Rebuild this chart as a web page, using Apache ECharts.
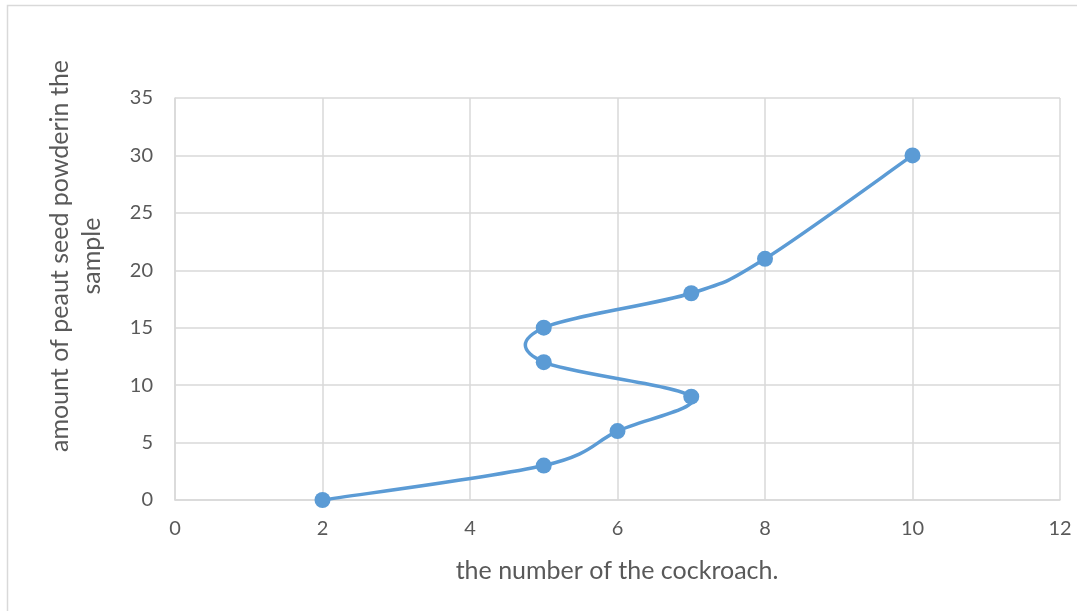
<!DOCTYPE html>
<html>
<head>
<meta charset="utf-8">
<script src="https://cdn.jsdelivr.net/npm/echarts@6/dist/echarts.min.js"></script>
<style>
html,body{margin:0;padding:0;background:#fff;}
#chart{width:1077px;height:611px;}
</style>
</head>
<body>
<div id="chart"></div>
<script>
// Cockroach count vs. amount of peanut seed powder in the sample
const cockroachCount = [2, 5, 6, 7, 5, 5, 7, 8, 10];
const powderAmount   = [0, 3, 6, 9, 12, 15, 18, 21, 30];
const xTicks = [0, 2, 4, 6, 8, 10, 12];
const yTicks = [0, 5, 10, 15, 20, 25, 30, 35];

const xTitle = 'the number of the cockroach.';
const yTitleLines = ['amount of peaut seed powderin the', 'sample'];

const points = cockroachCount.map((x, i) => [x, powderAmount[i]]);

const font = 'Lato, "Open Sans", sans-serif';
const textColor = '#595959';
const gridColor = '#d9d9d9';
const lineColor = '#5b9bd5';

// Smoothed connector through the points (Catmull-Rom style cubic segments),
// built in pixel space from the axis-converted coordinates.
function renderSmoothLine(params, api) {
  if (params.dataIndex !== 0) return null;
  const px = points.map(p => api.coord(p));
  const n = px.length;
  let d = 'M' + px[0][0] + ',' + px[0][1];
  for (let i = 0; i < n - 1; i++) {
    const p0 = px[Math.max(i - 1, 0)];
    const p1 = px[i];
    const p2 = px[i + 1];
    const p3 = px[Math.min(i + 2, n - 1)];
    const c1 = [p1[0] + (p2[0] - p0[0]) / 6, p1[1] + (p2[1] - p0[1]) / 6];
    const c2 = [p2[0] - (p3[0] - p1[0]) / 6, p2[1] - (p3[1] - p1[1]) / 6];
    d += ' C' + c1[0] + ',' + c1[1] + ' ' + c2[0] + ',' + c2[1] + ' ' + p2[0] + ',' + p2[1];
  }
  return {
    type: 'path',
    shape: {pathData: d},
    style: {fill: null, stroke: lineColor, lineWidth: 3.5, lineCap: 'round', lineJoin: 'round'}
  };
}

const chart = echarts.init(document.getElementById('chart'), null, {renderer: 'canvas'});
chart.setOption({
  animation: false,
  backgroundColor: '#fff',
  grid: {left: 175, right: 17, top: 98, bottom: 111, containLabel: false},
  xAxis: {
    type: 'value',
    min: xTicks[0], max: xTicks[xTicks.length - 1], interval: 2,
    axisLine: {show: true, lineStyle: {color: gridColor, width: 1.5}},
    axisTick: {show: false},
    splitLine: {show: true, lineStyle: {color: gridColor, width: 1.5}},
    axisLabel: {color: textColor, fontSize: 20, fontFamily: font, margin: 19}
  },
  yAxis: {
    type: 'value',
    min: yTicks[0], max: yTicks[yTicks.length - 1], interval: 5,
    axisLine: {show: true, lineStyle: {color: gridColor, width: 1.5}},
    axisTick: {show: false},
    splitLine: {show: true, lineStyle: {color: gridColor, width: 1.5}},
    axisLabel: {color: textColor, fontSize: 20, fontFamily: font, margin: 22}
  },
  graphic: [
    {type: 'rect', shape: {x: 7.5, y: 5.5, width: 1080, height: 620},
     style: {fill: 'none', stroke: '#d9d9d9', lineWidth: 1.5}, z: -1},
    {type: 'text', x: 617, y: 571,
     style: {text: xTitle, fill: textColor, font: '25px ' + font, align: 'center', verticalAlign: 'middle'}},
    {type: 'text', x: 60, y: 256, rotation: Math.PI / 2,
     style: {text: yTitleLines[0], fill: textColor, font: '25px ' + font, align: 'center', verticalAlign: 'middle'}},
    {type: 'text', x: 92, y: 256, rotation: Math.PI / 2,
     style: {text: yTitleLines[1], fill: textColor, font: '25px ' + font, align: 'center', verticalAlign: 'middle'}}
  ],
  series: [
    {
      type: 'custom',
      renderItem: renderSmoothLine,
      data: points,
      clip: false,
      z: 2
    },
    {
      type: 'scatter',
      data: points,
      symbol: 'circle',
      symbolSize: 16,
      itemStyle: {color: lineColor, opacity: 1},
      z: 3
    }
  ]
});
</script>
</body>
</html>
